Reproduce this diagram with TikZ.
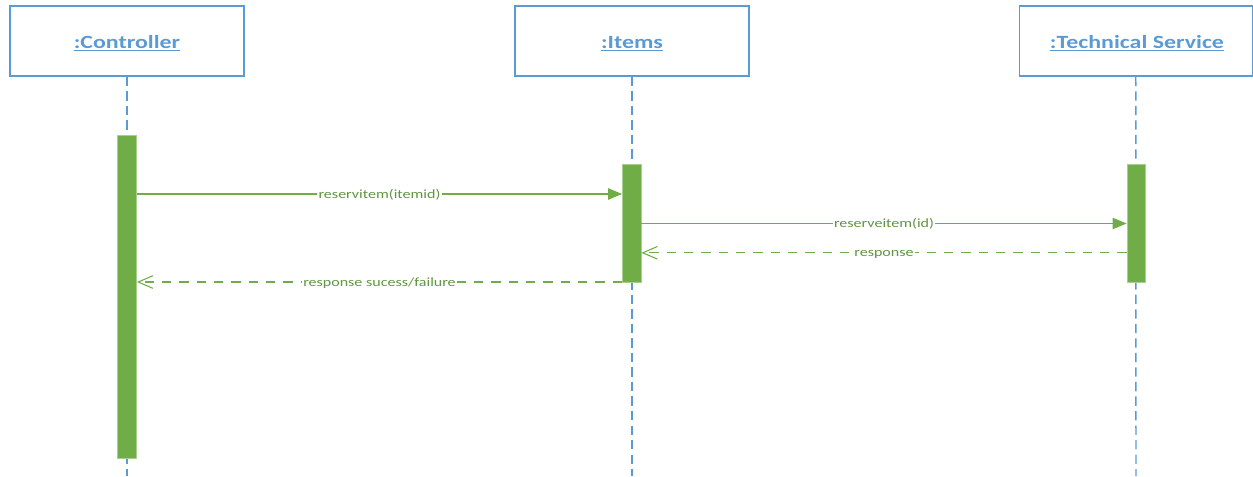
\documentclass[tikz,border=0pt]{standalone}
\usepackage{fontspec}
\setmainfont{Carlito}
\usetikzlibrary{arrows.meta,fit}
\definecolor{lineblue}{HTML}{5B9BD5}
\definecolor{actgreen}{HTML}{70AD47}
\definecolor{actedge}{HTML}{A9CF8E}
\definecolor{labgreen}{HTML}{609640}
% underlined object name, stretched the way the sheet renders it
\newcommand\objname[1]{\scalebox{1.28}[1]{\setbox0\hbox{#1}\leavevmode\rlap{\rule[-1.9pt]{\wd0}{0.85pt}}\box0}}
\newcommand\msgtext[1]{\scalebox{1.28}[1]{#1}}
\tikzset{
  head/.style={draw=lineblue, line width=1.1pt, rectangle, minimum width=175.5pt, minimum height=52.5pt, inner sep=0pt},
  headname/.style={anchor=base, text=lineblue, font=\fontsize{14}{16}\selectfont\bfseries, inner sep=0pt},
  lifeline/.style={draw=lineblue, line width=1.1pt, dash pattern=on 7pt off 3.9pt},
  act/.style={fill=actgreen, draw=actedge, line width=0.6pt, inner sep=0pt},
  call/.style={draw=actgreen, line width=0.9pt, -{Triangle[length=10.5pt,width=8.5pt]}},
  reply/.style={draw=actgreen, line width=0.9pt, dash pattern=on 7pt off 6pt, -{Straight Barb[length=11pt,width=9.5pt,line width=0.8pt]}},
  msglabel/.style={fill=white, text=labgreen, font=\fontsize{9.4}{11}\selectfont, inner xsep=1pt, inner ysep=1.5pt, anchor=base, yshift=-3pt}
}
\begin{document}
\begin{tikzpicture}[x=0.75pt,y=-0.75pt]
\useasboundingbox (0,0) rectangle (1253,476);

% object heads
\node[head] (ctrl)  at (127,41) {};
\node[head] (items) at (632,41) {};
\node[head, minimum width=174.75pt] (tech) at (1135.75,41) {};
\node[headname] (ctrl-name)  at (127,48.7)  {\objname{:Controller}};
\node[headname] (items-name) at (632,48.7)  {\objname{:Items}};
\node[headname] (tech-name)  at (1137,48.7) {\objname{:Technical Service}};

% lifeline ends
\coordinate (ctrl-end)  at (127,476);
\coordinate (items-end) at (632,476);
\coordinate (tech-end)  at (1136,476);

\draw[lifeline] (ctrl.south)  -- (ctrl-end);
\draw[lifeline] (items.south) -- (items-end);
\draw[lifeline] (tech.south |- ctrl.south) -- (tech-end);

% activation bars
\node[act, fit={(117.5,135) (136.5,458.5)}] (act-ctrl) {};
\node[act, fit={(622.5,164.5) (641,282.3)}] (act-items) {};
\node[act, fit={(1127,164.5) (1145.5,282.3)}] (act-tech) {};

% message rows
\coordinate (m1) at (0,194);
\coordinate (m2) at (0,223.5);
\coordinate (m3) at (0,252.8);
\coordinate (m4) at (0,282);

\draw[call]  (act-ctrl.east |- m1) -- node[msglabel] {\msgtext{reservitem(itemid)}} (act-items.west |- m1);
\draw[call]  (act-items.east |- m2) -- node[msglabel] {\msgtext{reserveitem(id)}} (act-tech.west |- m2);
\draw[reply] (act-tech.west |- m3) -- node[msglabel] {\msgtext{response}} (act-items.east |- m3);
\draw[reply] (act-items.west |- m4) -- node[msglabel] {\msgtext{response sucess/failure}} (act-ctrl.east |- m4);
\end{tikzpicture}
\end{document}
